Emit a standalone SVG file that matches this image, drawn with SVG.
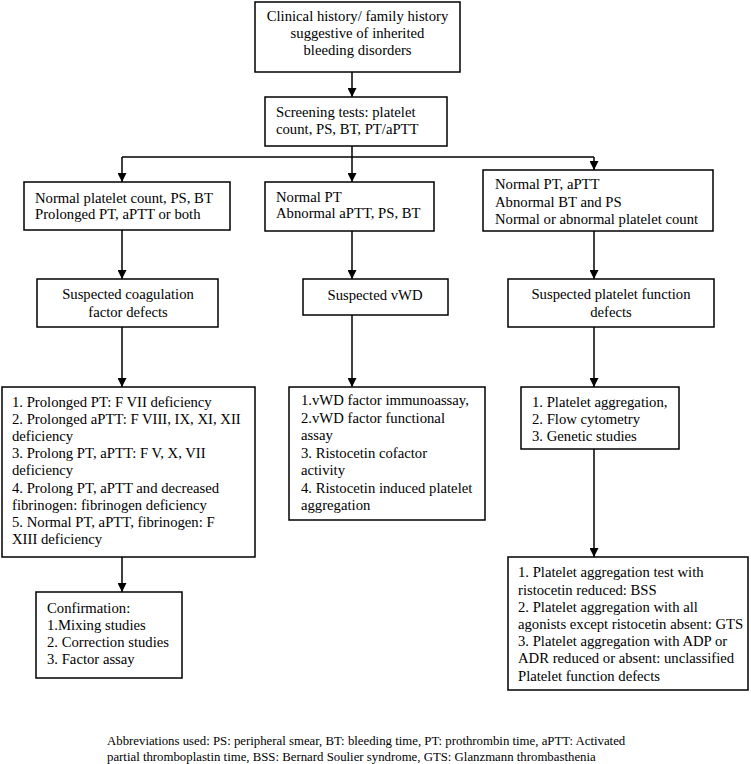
<svg xmlns="http://www.w3.org/2000/svg" width="751" height="764" viewBox="0 0 751 764">
<defs>
<marker id="ah" viewBox="0 0 10 10" refX="10" refY="5" markerWidth="9" markerHeight="9" markerUnits="userSpaceOnUse" orient="auto">
<path d="M0,0 L10,5 L0,10 Z" fill="#000"/>
</marker>
<style>
.box{fill:#fff;stroke:#000;stroke-width:1.5}
text{font-family:'Liberation Serif','Times New Roman',Times,serif;fill:#000}
.t{font-size:14.7px}
.c{text-anchor:middle}
.ab{font-size:12.8px}
.ln{fill:none;stroke:#000;stroke-width:1.5}
.ar{fill:none;stroke:#000;stroke-width:1.5;marker-end:url(#ah)}
</style>
</defs>
<rect width="751" height="764" fill="#fff"/>
<g id="connectors">
<line class="ar" x1="352" y1="72" x2="352" y2="97"/>
<polyline class="ln" points="352,146 352,157"/>
<line class="ln" x1="122" y1="157" x2="594" y2="157"/>
<line class="ar" x1="122" y1="157" x2="122" y2="182"/>
<line class="ar" x1="352" y1="157" x2="352" y2="182"/>
<line class="ar" x1="594" y1="157" x2="594" y2="170"/>
<line class="ar" x1="122" y1="230" x2="122" y2="279"/>
<line class="ar" x1="352" y1="231" x2="352" y2="279"/>
<line class="ar" x1="594" y1="231" x2="594" y2="279"/>
<line class="ar" x1="122" y1="327" x2="122" y2="387"/>
<line class="ar" x1="352" y1="315" x2="352" y2="387"/>
<line class="ar" x1="594" y1="327" x2="594" y2="387"/>
<line class="ar" x1="122" y1="557" x2="122" y2="592"/>
<line class="ar" x1="594" y1="449" x2="594" y2="557"/>
</g>
<g font-family="Liberation Serif, serif">
<g id="n-history">
<rect class="box" x="255" y="2" width="205" height="70"/>
<text class="t c" x="357.5" y="21">Clinical history/ family history</text>
<text class="t c" x="357.5" y="38">suggestive of inherited</text>
<text class="t c" x="357.5" y="55">bleeding disorders</text>
</g>
<g id="n-screening">
<rect class="box" x="265" y="97" width="182" height="49"/>
<text class="t" x="276" y="117">Screening tests: platelet</text>
<text class="t" x="276" y="134">count, PS, BT, PT/aPTT</text>
</g>
<g id="n-a1">
<rect class="box" x="24" y="182" width="206" height="48"/>
<text class="t" x="35" y="203">Normal platelet count, PS, BT</text>
<text class="t" x="35" y="219">Prolonged PT, aPTT or both</text>
</g>
<g id="n-b1">
<rect class="box" x="265" y="182" width="169" height="49"/>
<text class="t" x="276" y="202">Normal PT</text>
<text class="t" x="276" y="218">Abnormal aPTT, PS, BT</text>
</g>
<g id="n-c1">
<rect class="box" x="483" y="170" width="230" height="61"/>
<text class="t" x="495" y="189">Normal PT, aPTT</text>
<text class="t" x="495" y="207">Abnormal BT and PS</text>
<text class="t" x="495" y="224">Normal or abnormal platelet count</text>
</g>
<g id="n-a2">
<rect class="box" x="37" y="279" width="181" height="48"/>
<text class="t c" x="128" y="299">Suspected coagulation</text>
<text class="t c" x="128" y="317">factor defects</text>
</g>
<g id="n-b2">
<rect class="box" x="303" y="279" width="145" height="36"/>
<text class="t c" x="375" y="300">Suspected vWD</text>
</g>
<g id="n-c2">
<rect class="box" x="508" y="279" width="206" height="48"/>
<text class="t c" x="611" y="299">Suspected platelet function</text>
<text class="t c" x="611" y="317">defects</text>
</g>
<g id="n-a3">
<rect class="box" x="2" y="387" width="253" height="170"/>
<text class="t" x="12" y="407">1. Prolonged PT: F VII deficiency</text>
<text class="t" x="12" y="424">2. Prolonged aPTT: F VIII, IX, XI, XII</text>
<text class="t" x="12" y="441">deficiency</text>
<text class="t" x="12" y="458">3. Prolong PT, aPTT: F V, X, VII</text>
<text class="t" x="12" y="475">deficiency</text>
<text class="t" x="12" y="493">4. Prolong PT, aPTT and decreased</text>
<text class="t" x="12" y="510">fibrinogen: fibrinogen deficiency</text>
<text class="t" x="12" y="527">5. Normal PT, aPTT, fibrinogen: F</text>
<text class="t" x="12" y="544">XIII deficiency</text>
</g>
<g id="n-b3">
<rect class="box" x="289" y="387" width="196" height="133"/>
<text class="t" x="301" y="405">1.vWD factor immunoassay,</text>
<text class="t" x="301" y="422.5">2.vWD factor functional</text>
<text class="t" x="301" y="440">assay</text>
<text class="t" x="301" y="457.5">3. Ristocetin cofactor</text>
<text class="t" x="301" y="475">activity</text>
<text class="t" x="301" y="492.5">4. Ristocetin induced platelet</text>
<text class="t" x="301" y="510">aggregation</text>
</g>
<g id="n-c3">
<rect class="box" x="521" y="387" width="158" height="62"/>
<text class="t" x="532" y="407">1. Platelet aggregation,</text>
<text class="t" x="532" y="424">2. Flow cytometry</text>
<text class="t" x="532" y="441">3. Genetic studies</text>
</g>
<g id="n-a4">
<rect class="box" x="36" y="592" width="146" height="86"/>
<text class="t" x="47" y="613">Confirmation:</text>
<text class="t" x="47" y="630">1.Mixing studies</text>
<text class="t" x="47" y="647">2. Correction studies</text>
<text class="t" x="47" y="664">3. Factor assay</text>
</g>
<g id="n-c4">
<rect class="box" x="508" y="557" width="240" height="133"/>
<text class="t" x="518" y="577">1. Platelet aggregation test with</text>
<text class="t" x="518" y="595">ristocetin reduced: BSS</text>
<text class="t" x="518" y="612">2. Platelet aggregation with all</text>
<text class="t" x="518" y="629">agonists except ristocetin absent: GTS</text>
<text class="t" x="518" y="646">3. Platelet aggregation with ADP or</text>
<text class="t" x="518" y="663">ADR reduced or absent: unclassified</text>
<text class="t" x="518" y="681">Platelet function defects</text>
</g>
<g id="abbreviations">
<text class="ab" x="107" y="745">Abbreviations used: PS: peripheral smear, BT: bleeding time, PT: prothrombin time, aPTT: Activated</text>
<text class="ab" x="107" y="761">partial thromboplastin time, BSS: Bernard Soulier syndrome, GTS: Glanzmann thrombasthenia</text>
</g>
</g>
</svg>
